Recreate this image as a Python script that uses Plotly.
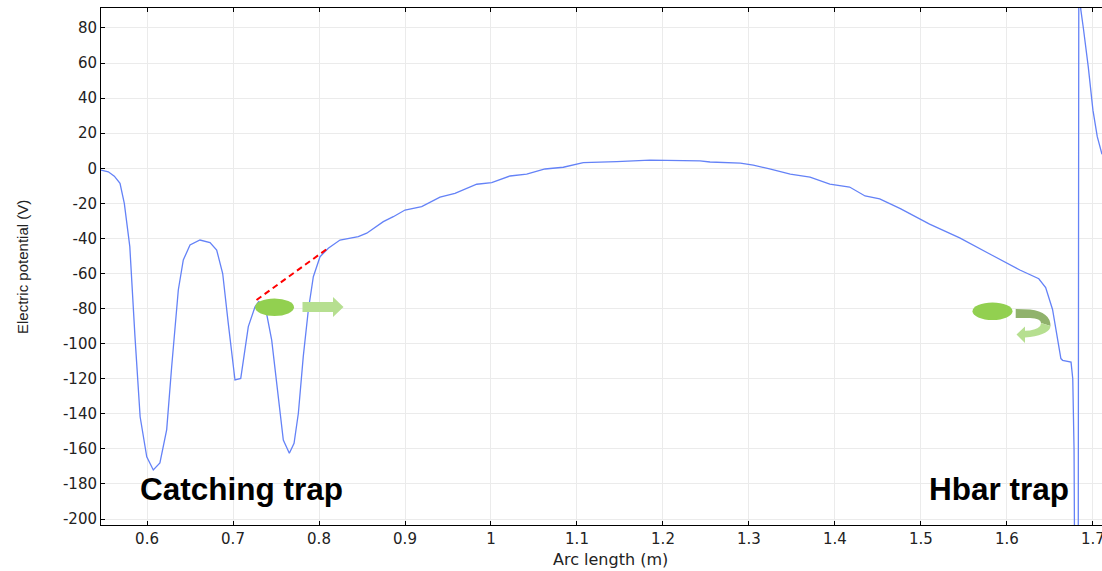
import plotly.graph_objects as go

# ---------------- data ----------------
arc_length = [0.5465, 0.555, 0.562, 0.5686, 0.5736, 0.580, 0.586, 0.592, 0.5997, 0.6073,
              0.615, 0.6229, 0.6287, 0.6364, 0.6422, 0.650, 0.6616, 0.6733, 0.681, 0.688,
              0.6945, 0.7023, 0.709, 0.714, 0.7178, 0.7256, 0.7300, 0.735, 0.739, 0.745,
              0.7527, 0.7585, 0.7655, 0.771, 0.776, 0.7817, 0.7876, 0.7934, 0.8012, 0.8108,
              0.8244, 0.8457, 0.8555, 0.8748, 0.8864, 0.900, 0.9194, 0.9407, 0.9581, 0.9834,
              1.0008, 1.0221, 1.0415, 1.0628, 1.0841, 1.1073, 1.1462, 1.1849, 1.243, 1.2547,
              1.29, 1.305, 1.324, 1.348, 1.371, 1.394, 1.417, 1.435, 1.452, 1.476,
              1.51, 1.545, 1.58, 1.615, 1.637, 1.645, 1.653, 1.6588, 1.6627, 1.6647,
              1.6745, 1.6765, 1.678, 1.679, 1.6828, 1.6836, 1.6857, 1.6888, 1.6945, 1.700,
              1.705, 1.7105]
potential = [-1.0, -2.0, -4.5, -8.6, -20.0, -44.7, -96.0, -141.7, -164.5, -172.0,
             -168.0, -149.0, -113.0, -69.4, -52.3, -43.7, -40.9, -42.4, -46.6, -60.0,
             -88.4, -120.7, -119.8, -103.6, -90.3, -79.0, -76.0, -79.0, -82.7, -98.0,
             -132.0, -155.0, -162.5, -156.8, -139.7, -107.4, -80.8, -61.8, -50.4, -45.6,
             -40.9, -39.0, -37.0, -30.4, -27.6, -23.8, -21.9, -16.5, -14.3, -9.1,
             -8.2, -4.4, -3.3, -0.4, 0.6, 3.2, 3.8, 4.7, 4.2, 3.6,
             3.0, 1.8, -0.4, -3.3, -5.0, -9.0, -10.7, -15.8, -17.5, -23.0,
             -31.8, -39.7, -48.9, -58.0, -63.0, -68.0, -80.5, -97.0, -108.5, -109.5,
             -110.5, -120.0, -160.0, -260.0, -260.0, 150.0, 91.0, 80.0, 58.0, 33.0,
             18.0, 8.0]

x_ticks = [0.6, 0.7, 0.8, 0.9, 1.0, 1.1, 1.2, 1.3, 1.4, 1.5, 1.6, 1.7]
x_tick_labels = ["0.6", "0.7", "0.8", "0.9", "1", "1.1", "1.2", "1.3", "1.4", "1.5", "1.6", "1.7"]
y_ticks = [80, 60, 40, 20, 0, -20, -40, -60, -80, -100, -120, -140, -160, -180, -200]
y_tick_labels = [str(v) for v in y_ticks]

trap_labels = ["Catching trap", "Hbar trap"]

# ---------------- geometry helpers ----------------
W, H = 1102, 571
L, R, T, B = 101, 0, 8, 46
X_RANGE = [0.5465, 1.7105]
Y_RANGE = [-203.4, 91.4]
plot_w = W - L - R
plot_h = H - T - B


def dx(xp):
    return X_RANGE[0] + (xp - L) / plot_w * (X_RANGE[1] - X_RANGE[0])


def dy(yp):
    return Y_RANGE[1] - (yp - T) / plot_h * (Y_RANGE[1] - Y_RANGE[0])


def path(cmds):
    out = []
    for c in cmds:
        if isinstance(c, str):
            out.append(c)
        else:
            out.append(f"{dx(c[0]):.5f},{dy(c[1]):.4f}")
    return " ".join(out)


BLUE = "#6482f7"
GREEN = "#92d050"
LIGHT_GREEN = "#b6df90"
DARK_GREEN = "#90b26c"
FONT = "Liberation Sans, Arial, sans-serif"
TICK_FONT = "DejaVu Sans, sans-serif"

fig = go.Figure()
fig.add_trace(go.Scatter(x=arc_length, y=potential, mode="lines",
                         line=dict(color=BLUE, width=1.3), hoverinfo="skip",
                         showlegend=False))

shapes = []
# red dashed tangent line
shapes.append(dict(type="line", xref="x", yref="y",
                   x0=dx(256.5), y0=dy(300), x1=dx(329), y1=dy(247.5),
                   line=dict(color="#ff0000", width=2, dash="6px,4px")))
# particles (ellipses)
shapes.append(dict(type="circle", xref="x", yref="y",
                   x0=dx(255), x1=dx(294), y0=dy(298.5), y1=dy(316),
                   fillcolor=GREEN, line=dict(width=0)))
shapes.append(dict(type="circle", xref="x", yref="y",
                   x0=dx(972.5), x1=dx(1012.5), y0=dy(302.5), y1=dy(320),
                   fillcolor=GREEN, line=dict(width=0)))
# straight arrow
shapes.append(dict(type="path", xref="x", yref="y",
                   path=path(["M", (302.5, 302), "L", (333, 302), "L", (333, 297), "L", (343.5, 307),
                              "L", (333, 317), "L", (333, 312), "L", (302.5, 312), "Z"]),
                   fillcolor=LIGHT_GREEN, line=dict(width=0)))
# U-turn arrow: dark upper part
shapes.append(dict(type="path", xref="x", yref="y",
                   path=path(["M", (1015.7, 309), "L", (1030, 309.5), "Q", (1050.5, 312), (1050.5, 326),
                              "L", (1041, 323), "Q", (1041, 318.5), (1030, 318), "L", (1015.7, 318), "Z"]),
                   fillcolor=DARK_GREEN, line=dict(width=0)))
# U-turn arrow: light lower part with head
shapes.append(dict(type="path", xref="x", yref="y",
                   path=path(["M", (1050.5, 326), "Q", (1050, 334), (1030, 337), "L", (1025, 337.5),
                              "L", (1025, 343), "L", (1016.5, 334.5), "L", (1025, 326.5), "L", (1025, 330.8),
                              "L", (1030, 330.5), "Q", (1041, 328.5), (1041, 323), "Z"]),
                   fillcolor=LIGHT_GREEN, line=dict(width=0)))

annotations = [
    dict(x=dx(241.5), y=dy(489), xref="x", yref="y", text=trap_labels[0], showarrow=False,
         xanchor="center", yanchor="middle",
         font=dict(family=FONT, size=31.5, color="#000000", weight="bold")),
    dict(x=dx(998.8), y=dy(489), xref="x", yref="y", text=trap_labels[1], showarrow=False,
         xanchor="center", yanchor="middle",
         font=dict(family=FONT, size=31.5, color="#000000", weight="bold")),
    dict(x=0, y=(525 - 267) / plot_h, xref="paper", yref="paper", xshift=-79,
         text="Electric potential (V)",
         showarrow=False, textangle=-90, xanchor="center", yanchor="middle",
         font=dict(family=FONT, size=15, color="#222222")),
    dict(x=(610.5 - L) / plot_w, y=0, xref="paper", yref="paper", yshift=-34, text="Arc length (m)",
         showarrow=False, xanchor="center", yanchor="middle",
         font=dict(family=TICK_FONT, size=16, color="#222222")),
]

fig.update_layout(
    width=W, height=H,
    margin=dict(l=L, r=R, t=T, b=B, pad=0, autoexpand=False),
    paper_bgcolor="white", plot_bgcolor="white",
    shapes=shapes, annotations=annotations,
    font=dict(family=FONT, size=14, color="#222222"),
    xaxis=dict(range=X_RANGE, tickvals=x_ticks, ticktext=x_tick_labels,
               showgrid=True, gridcolor="#ebebeb", gridwidth=1,
               showline=True, linecolor="black", linewidth=1, mirror="ticks",
               ticks="inside", ticklen=4, tickcolor="black", zeroline=False,
               ticklabeloverflow="allow", automargin=False,
               tickfont=dict(family=TICK_FONT, size=15, color="#222222")),
    yaxis=dict(range=Y_RANGE, tickvals=y_ticks, ticktext=y_tick_labels,
               showgrid=True, gridcolor="#ebebeb", gridwidth=1,
               showline=True, linecolor="black", linewidth=1, mirror=False,
               ticks="inside", ticklen=4, tickcolor="black", zeroline=False,
               automargin=False,
               tickfont=dict(family=TICK_FONT, size=15, color="#222222")),
)

fig.write_html("out.html",
               config={"displayModeBar": False},
               post_script="document.body.style.margin='0';document.body.style.padding='0';"
                           "document.body.style.overflow='hidden';")
